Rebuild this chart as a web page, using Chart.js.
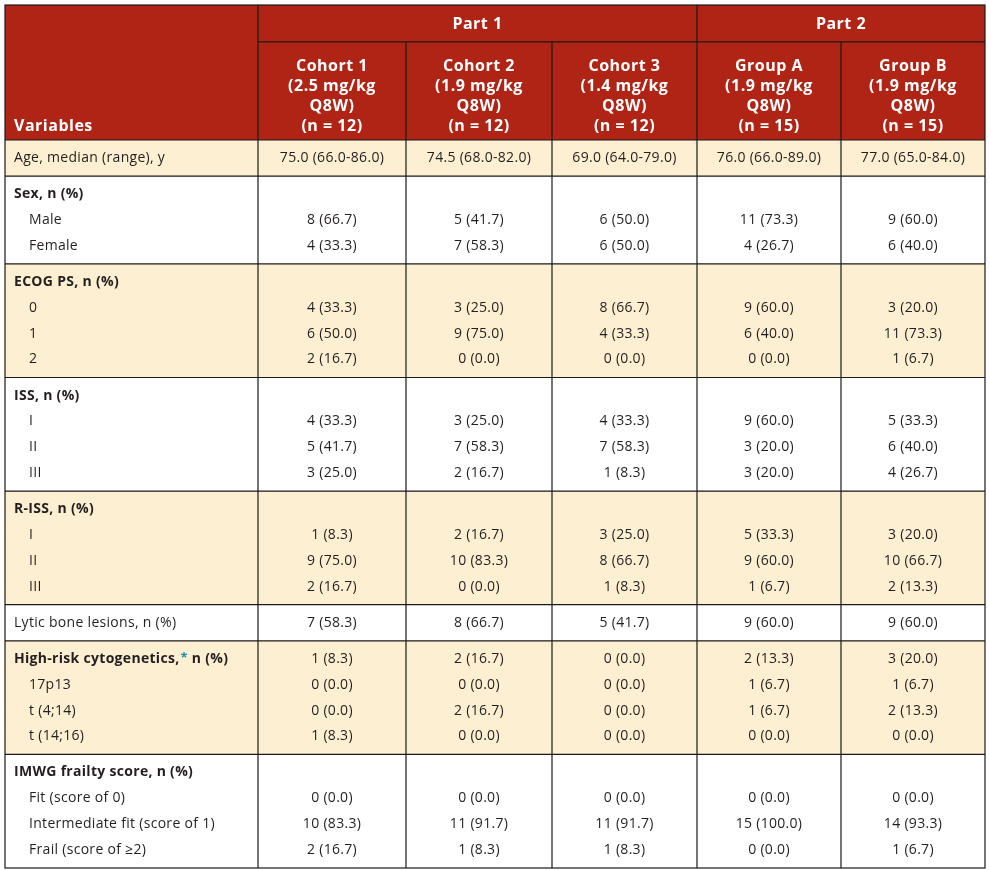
<!DOCTYPE html>
<html>
<head>
<meta charset="utf-8">
<script src="https://cdn.jsdelivr.net/npm/chart.js@4.4.1/dist/chart.umd.min.js"></script>
<style>
  html, body { margin: 0; padding: 0; background: #ffffff; }
  #wrap { width: 989px; height: 870px; }
</style>
</head>
<body>
<div id="wrap"><canvas id="tabla" width="989" height="870"></canvas></div>
<script>
// table content
var partLabels = ['Part 1', 'Part 2'];
var partSpans = [3, 2];
var stubHeader = 'Variables';
var columnHeaders = [
  ['Cohort 1', '(2.5 mg/kg', 'Q8W)', '(n = 12)'],
  ['Cohort 2', '(1.9 mg/kg', 'Q8W)', '(n = 12)'],
  ['Cohort 3', '(1.4 mg/kg', 'Q8W)', '(n = 12)'],
  ['Group A', '(1.9 mg/kg', 'Q8W)', '(n = 15)'],
  ['Group B', '(1.9 mg/kg', 'Q8W)', '(n = 15)']
];

var rowLabels = [
  'Age, median (range), y',
  'Sex, n (%)', 'Male', 'Female',
  'ECOG PS, n (%)', '0', '1', '2',
  'ISS, n (%)', 'I', 'II', 'III',
  'R-ISS, n (%)', 'I', 'II', 'III',
  'Lytic bone lesions, n (%)',
  'High-risk cytogenetics,* n (%)', '17p13', 't (4;14)', 't (14;16)',
  'IMWG frailty score, n (%)', 'Fit (score of 0)', 'Intermediate fit (score of 1)', 'Frail (score of \u22652)'
];
// 0 = plain row, 1 = bold heading, 2 = indented sub row
var rowKind = [0, 1, 2, 2, 1, 2, 2, 2, 1, 2, 2, 2, 1, 2, 2, 2, 0, 1, 2, 2, 2, 1, 2, 2, 2];
var rowGroup = [0, 1, 1, 1, 2, 2, 2, 2, 3, 3, 3, 3, 4, 4, 4, 4, 5, 6, 6, 6, 6, 7, 7, 7, 7];

var cohort1 = ['75.0 (66.0-86.0)', '', '8 (66.7)', '4 (33.3)', '', '4 (33.3)', '6 (50.0)', '2 (16.7)', '', '4 (33.3)', '5 (41.7)', '3 (25.0)', '', '1 (8.3)', '9 (75.0)', '2 (16.7)', '7 (58.3)', '1 (8.3)', '0 (0.0)', '0 (0.0)', '1 (8.3)', '', '0 (0.0)', '10 (83.3)', '2 (16.7)'];
var cohort2 = ['74.5 (68.0-82.0)', '', '5 (41.7)', '7 (58.3)', '', '3 (25.0)', '9 (75.0)', '0 (0.0)', '', '3 (25.0)', '7 (58.3)', '2 (16.7)', '', '2 (16.7)', '10 (83.3)', '0 (0.0)', '8 (66.7)', '2 (16.7)', '0 (0.0)', '2 (16.7)', '0 (0.0)', '', '0 (0.0)', '11 (91.7)', '1 (8.3)'];
var cohort3 = ['69.0 (64.0-79.0)', '', '6 (50.0)', '6 (50.0)', '', '8 (66.7)', '4 (33.3)', '0 (0.0)', '', '4 (33.3)', '7 (58.3)', '1 (8.3)', '', '3 (25.0)', '8 (66.7)', '1 (8.3)', '5 (41.7)', '0 (0.0)', '0 (0.0)', '0 (0.0)', '0 (0.0)', '', '0 (0.0)', '11 (91.7)', '1 (8.3)'];
var groupA = ['76.0 (66.0-89.0)', '', '11 (73.3)', '4 (26.7)', '', '9 (60.0)', '6 (40.0)', '0 (0.0)', '', '9 (60.0)', '3 (20.0)', '3 (20.0)', '', '5 (33.3)', '9 (60.0)', '1 (6.7)', '9 (60.0)', '2 (13.3)', '1 (6.7)', '1 (6.7)', '0 (0.0)', '', '0 (0.0)', '15 (100.0)', '0 (0.0)'];
var groupB = ['77.0 (65.0-84.0)', '', '9 (60.0)', '6 (40.0)', '', '3 (20.0)', '11 (73.3)', '1 (6.7)', '', '5 (33.3)', '6 (40.0)', '4 (26.7)', '', '3 (20.0)', '10 (66.7)', '2 (13.3)', '9 (60.0)', '3 (20.0)', '1 (6.7)', '2 (13.3)', '0 (0.0)', '', '0 (0.0)', '14 (93.3)', '1 (6.7)'];
var valueColumns = [cohort1, cohort2, cohort3, groupA, groupB];

// layout (not data)
var colWidths = [253, 148, 146, 145, 144, 144];
var PAD = 0.7;          // group padding in row units
var HEAD_PART = 1.43;   // "Part" row height in row units
var HEAD_TOTAL = 5.23;  // whole header height in row units
var INDENT = 15;
var ROJO = '#b02416';
var BEIGE = '#fdefd1';
var LINEA = '#1a1a1a';
var FUENTE = '"Open Sans", "Noto Sans", sans-serif';
var TAM = '14px ';
var ESPACIO = '0.3px';
var ESPACIO_CAB = '0.5px';

// column edges on the x scale
var colEdges = [0];
for (var c = 0; c < colWidths.length; c++) colEdges.push(colEdges[c] + colWidths[c]);

// row positions on the y scale, groups padded above and below
var rowY = [];
var groupTop = [];
var groupBottom = [];
var cursor = 0;
for (var i = 0; i < rowLabels.length; i++) {
  var g = rowGroup[i];
  if (groupTop[g] === undefined) {
    groupTop[g] = cursor;
    cursor += PAD;
  } else {
    cursor += 1;
  }
  rowY.push(cursor);
  if (i === rowLabels.length - 1 || rowGroup[i + 1] !== g) {
    cursor += PAD;
    groupBottom[g] = cursor;
  }
}
var bodyEnd = cursor;

// datasets: stub labels + one per value column
var datasets = [];
datasets.push({
  label: 'labels',
  align: 'left',
  data: rowLabels.map(function(t, i) {
    return { x: colEdges[0] + 9 + (rowKind[i] === 2 ? INDENT : 0), y: rowY[i], text: t, kind: rowKind[i] };
  }),
  pointRadius: 0
});
valueColumns.forEach(function(col, k) {
  var pts = [];
  col.forEach(function(t, i) {
    if (t !== '') pts.push({ x: (colEdges[k + 1] + colEdges[k + 2]) / 2, y: rowY[i], text: t, kind: 0 });
  });
  datasets.push({ label: columnHeaders[k][0], align: 'center', data: pts, pointRadius: 0 });
});

function linea(ctx, x1, y1, x2, y2) {
  ctx.beginPath();
  ctx.moveTo(x1, y1);
  ctx.lineTo(x2, y2);
  ctx.stroke();
}

function dibujaEtiqueta(ctx, texto, x, y, negrita) {
  ctx.font = (negrita ? 'bold ' : '') + TAM + FUENTE;
  var estrella = texto.indexOf('*');
  if (estrella < 0) {
    ctx.fillText(texto, x, y);
    return;
  }
  var a = texto.substring(0, estrella);
  var b = texto.substring(estrella + 1);
  ctx.fillText(a, x, y);
  var xa = x + ctx.measureText(a).width + 1;
  ctx.save();
  ctx.fillStyle = '#1c8fb0';
  ctx.font = 'bold 13px ' + FUENTE;
  ctx.fillText('*', xa, y - 1);
  var xs = xa + ctx.measureText('*').width;
  ctx.restore();
  ctx.fillText(b, xs, y);
}

var tablaPlugin = {
  id: 'tabla',
  beforeDatasetsDraw: function(chart) {
    var ctx = chart.ctx;
    var xs = chart.scales.x, ys = chart.scales.y;
    var X = function(v) { return xs.getPixelForValue(v); };
    var Y = function(v) { return ys.getPixelForValue(v); };
    var left = X(colEdges[0]), right = X(colEdges[colEdges.length - 1]);
    var headTop = -HEAD_TOTAL, partBottom = -HEAD_TOTAL + HEAD_PART;
    ctx.save();
    // header background
    ctx.fillStyle = ROJO;
    ctx.fillRect(left, Y(headTop), right - left, Y(0) - Y(headTop));
    // shaded groups
    ctx.fillStyle = BEIGE;
    for (var g = 0; g < groupTop.length; g++) {
      if (g % 2 === 0) ctx.fillRect(left, Y(groupTop[g]), right - left, Y(groupBottom[g]) - Y(groupTop[g]));
    }
    ctx.strokeStyle = LINEA;
    ctx.lineWidth = 1.2;
    // header lines
    var partEdges = [1];
    partSpans.forEach(function(s) { partEdges.push(partEdges[partEdges.length - 1] + s); });
    linea(ctx, X(colEdges[1]), Y(partBottom), right, Y(partBottom));
    for (var e = 1; e < colEdges.length - 1; e++) {
      var full = partEdges.indexOf(e) >= 0;
      linea(ctx, X(colEdges[e]), full ? Y(headTop) : Y(partBottom), X(colEdges[e]), Y(bodyEnd));
    }
    // group lines
    for (var h = 0; h < groupTop.length; h++) linea(ctx, left, Y(groupTop[h]), right, Y(groupTop[h]));
    // outer border
    ctx.strokeRect(left, Y(headTop), right - left, Y(bodyEnd) - Y(headTop));

    // header text
    ctx.fillStyle = '#ffffff';
    ctx.font = 'bold 16px ' + FUENTE;
    ctx.letterSpacing = ESPACIO_CAB;
    ctx.textBaseline = 'middle';
    ctx.textAlign = 'center';
    for (var p = 0; p < partLabels.length; p++) {
      var cx = (X(colEdges[partEdges[p]]) + X(colEdges[partEdges[p + 1]])) / 2;
      ctx.fillText(partLabels[p], cx, (Y(headTop) + Y(partBottom)) / 2 + 1);
    }
    var lineH = 20;
    var lastY = Y(0) - 14;
    columnHeaders.forEach(function(lines, k) {
      var cx2 = (X(colEdges[k + 1]) + X(colEdges[k + 2])) / 2;
      lines.forEach(function(t, j) {
        ctx.fillText(t, cx2, lastY - (lines.length - 1 - j) * lineH);
      });
    });
    ctx.textAlign = 'left';
    ctx.fillText(stubHeader, left + 9, lastY);
    ctx.restore();
  },
  afterDatasetsDraw: function(chart) {
    var ctx = chart.ctx;
    ctx.save();
    ctx.fillStyle = '#231f20';
    ctx.textBaseline = 'middle';
    ctx.letterSpacing = ESPACIO;
    chart.data.datasets.forEach(function(ds, d) {
      var meta = chart.getDatasetMeta(d);
      ctx.textAlign = ds.align;
      meta.data.forEach(function(el, i) {
        var pt = ds.data[i];
        if (d === 0) {
          dibujaEtiqueta(ctx, pt.text, el.x, el.y, pt.kind === 1);
        } else {
          ctx.font = TAM + FUENTE;
          ctx.fillText(pt.text, el.x, el.y);
        }
      });
    });
    ctx.restore();
  }
};

new Chart(document.getElementById('tabla').getContext('2d'), {
  type: 'scatter',
  data: { datasets: datasets },
  options: {
    responsive: false,
    animation: false,
    layout: { padding: { left: 5, top: 5, right: 4, bottom: 2 } },
    plugins: { legend: { display: false }, tooltip: { enabled: false } },
    scales: {
      x: { type: 'linear', display: false, min: colEdges[0], max: colEdges[colEdges.length - 1] },
      y: { type: 'linear', display: false, reverse: true, min: -HEAD_TOTAL, max: bodyEnd }
    }
  },
  plugins: [tablaPlugin]
});
</script>
</body>
</html>
